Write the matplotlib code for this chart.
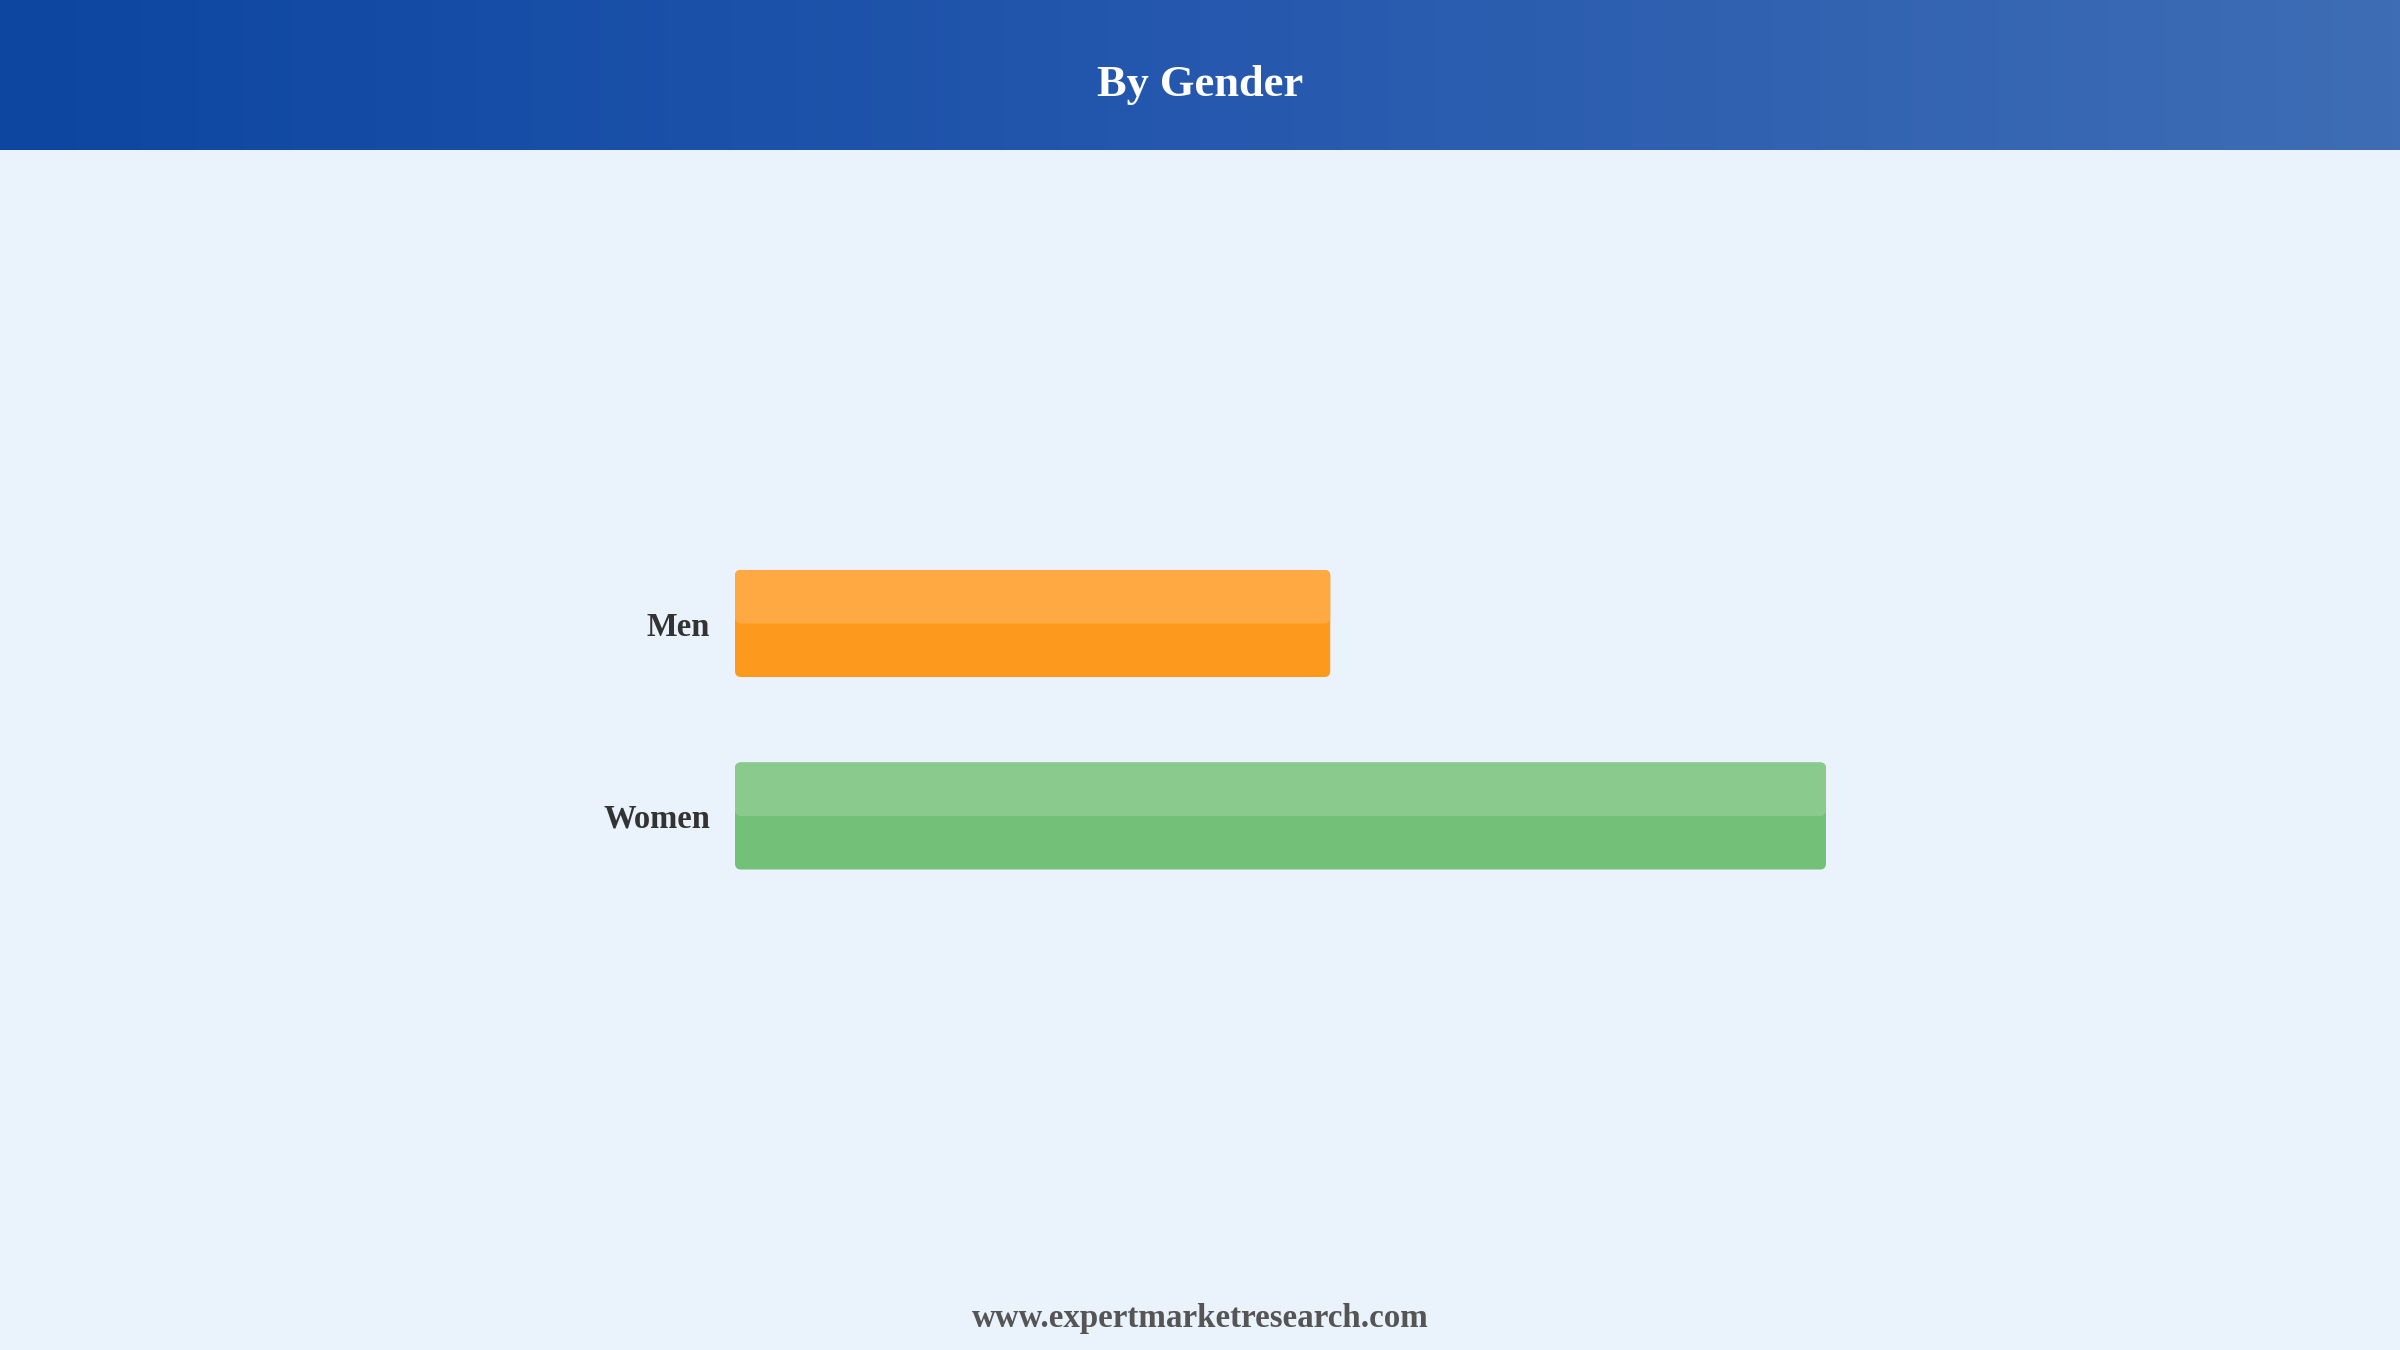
import numpy as np
import matplotlib
matplotlib.use('Agg')
import matplotlib.pyplot as plt
from matplotlib.colors import LinearSegmentedColormap
from matplotlib.patches import FancyBboxPatch

# ── Data ──────────────────────────────────────────────────────────────────────
categories = ['Men', 'Women']
shares = [35.3, 64.7]
bar_colors = ['#FD9A1E', '#73C079']
top_colors = ['#FEA942', '#8ACA8C']

title = 'By Gender'
footer = 'www.expertmarketresearch.com'

# ── Figure ────────────────────────────────────────────────────────────────────
W, H = 2400, 1350
fig = plt.figure(figsize=(24, 13.5), dpi=100)
fig.patch.set_facecolor('#EAF2FC')
serif = ['Liberation Serif', 'DejaVu Serif']

# header band with horizontal gradient
hdr_h = 150 / H
hax = fig.add_axes([0, 1 - hdr_h, 1, hdr_h])
cmap = LinearSegmentedColormap.from_list('hdr', ['#0C46A1', '#2558AE', '#3E6DB5'])
hax.imshow(np.linspace(0, 1, 512)[None, :], aspect='auto', cmap=cmap,
           extent=[0, 1, 0, 1])
hax.set_axis_off()
fig.text(0.5, 1 - 85 / H, title, ha='center', va='center', color='white',
         fontsize=32, fontweight='bold', family=serif)

# bar chart
left_px, right_px = 735, 2084
top_px, bot_px = 431, 1008.5
ax = fig.add_axes([left_px / W, 1 - bot_px / H,
                   (right_px - left_px) / W, (bot_px - top_px) / H])
ax.set_facecolor('none')
xmax = 80
ax.set_xlim(0, xmax)
ax.set_ylim(2, -1)
ypos = np.arange(len(categories))
bh = 0.556
bars = ax.barh(ypos, shares, height=bh, color=bar_colors)
tops = ax.barh(ypos - bh / 4, shares, height=bh / 2, color=top_colors)

# swap plain rectangles for slightly rounded ones
xpp = xmax / (right_px - left_px)
ypp = 3 / (bot_px - top_px)
rad = 6
for rect in list(bars) + list(tops):
    x, y = rect.get_x(), rect.get_y()
    w, h = rect.get_width(), rect.get_height()
    fb = FancyBboxPatch((x, y), w, h,
                        boxstyle=f'round,pad=0,rounding_size={rad * xpp}',
                        mutation_aspect=ypp / xpp,
                        facecolor=rect.get_facecolor(), edgecolor='none')
    rect.set_visible(False)
    ax.add_patch(fb)

ax.set_yticks(ypos)
ax.set_yticklabels(categories, fontsize=23.5, fontweight='bold',
                   color='#333333', family=serif)
ax.tick_params(axis='y', length=0, pad=18)
ax.set_xticks([])
for s in ax.spines.values():
    s.set_visible(False)

fig.text(0.5, 1 - 1318 / H, footer, ha='center', va='center',
         color='#555555', fontsize=23.8, fontweight='bold', family=serif)

plt.savefig('out.png', dpi=100, facecolor=fig.get_facecolor())
